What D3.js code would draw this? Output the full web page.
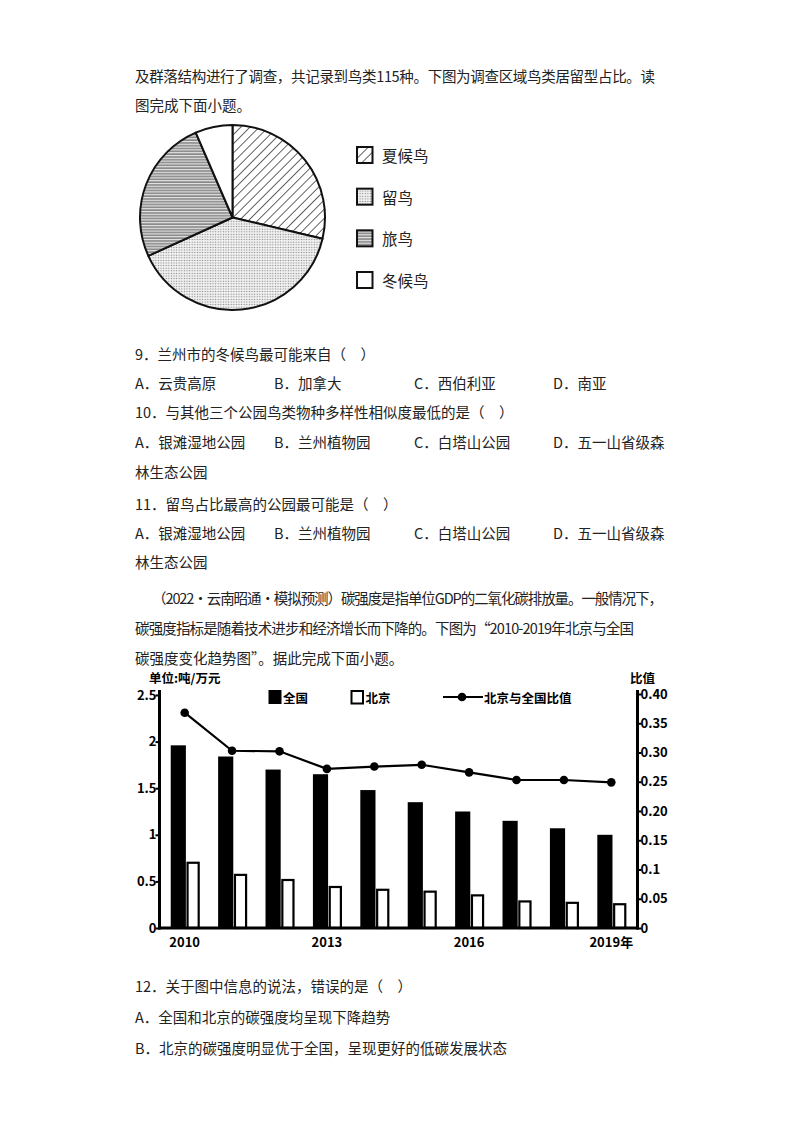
<!DOCTYPE html>
<html><head><meta charset="utf-8">
<script src="https://cdn.jsdelivr.net/npm/d3@7"></script>
<style>
html,body{margin:0;padding:0;background:#fff;}
svg{display:block;}
</style></head>
<body>
<script>
// ---------- data ----------
const pieLabels = ["夏候鸟", "留鸟", "旅鸟", "冬候鸟"];
const pieShares = [28.7, 39.5, 25.3, 6.5];

const years = ["2010","2011","2012","2013","2014","2015","2016","2017","2018","2019"];
const national = [1.96, 1.84, 1.70, 1.65, 1.48, 1.35, 1.25, 1.15, 1.07, 1.00];
const beijing = [0.70, 0.57, 0.515, 0.44, 0.41, 0.39, 0.35, 0.285, 0.27, 0.255];
const ratio = [0.368, 0.303, 0.302, 0.272, 0.276, 0.279, 0.266, 0.253, 0.253, 0.249];

const leftTicks = [0, 0.5, 1, 1.5, 2, 2.5];
const leftTickLabels = ["0", "0.5", "1", "1.5", "2", "2.5"];
const rightTicks = [0, 0.05, 0.10, 0.15, 0.20, 0.25, 0.30, 0.35, 0.40];
const rightTickLabels = ["0", "0.05", "0.1", "0.15", "0.20", "0.25", "0.30", "0.35", "0.40"];
const xTickYears = ["2010", "2013", "2016", "2019"];
const xTickLabels = ["2010", "2013", "2016", "2019年"];
const legendLabels = ["全国", "北京", "北京与全国比值"];

// ---------- page text ----------
const bodyLines = [
  {x:135, y:75, t:"及群落结构进行了调查，共记录到鸟类115种。下图为调查区域鸟类居留型占比。读", len:520},
  {x:135, y:104, t:"图完成下面小题。"},
  {x:135, y:353, t:"9．兰州市的冬候鸟最可能来自（　）"},
  {x:135, y:382, t:"A．云贵高原"},{x:274, y:382, t:"B．加拿大"},{x:414, y:382, t:"C．西伯利亚"},{x:553, y:382, t:"D．南亚"},
  {x:135, y:411, t:"10．与其他三个公园鸟类物种多样性相似度最低的是（　）"},
  {x:135, y:441, t:"A．银滩湿地公园"},{x:274, y:441, t:"B．兰州植物园"},{x:414, y:441, t:"C．白塔山公园"},{x:553, y:441, t:"D．五一山省级森"},
  {x:135, y:471, t:"林生态公园"},
  {x:135, y:503, t:"11．留鸟占比最高的公园最可能是（　）"},
  {x:135, y:532, t:"A．银滩湿地公园"},{x:274, y:532, t:"B．兰州植物园"},{x:414, y:532, t:"C．白塔山公园"},{x:553, y:532, t:"D．五一山省级森"},
  {x:135, y:561, t:"林生态公园"},
  {x:152, y:597, t:"（2022·云南昭通·模拟预测）碳强度是指单位GDP的二氧化碳排放量。一般情况下，", len:511},
  {x:135, y:627, t:"碳强度指标是随着技术进步和经济增长而下降的。下图为“2010-2019年北京与全国", len:499},
  {x:135, y:657, t:"碳强度变化趋势图”。据此完成下面小题。"},
  {x:135, y:985, t:"12．关于图中信息的说法，错误的是（　）"},
  {x:135, y:1016, t:"A．全国和北京的碳强度均呈现下降趋势"},
  {x:135, y:1047, t:"B．北京的碳强度明显优于全国，呈现更好的低碳发展状态"}
];

const svg = d3.select("body").append("svg").attr("width", 800).attr("height", 1132);
svg.append("rect").attr("width", 800).attr("height", 1132).attr("fill", "#fff");

const CJK = "'Noto Sans CJK SC','Noto Sans',sans-serif";

svg.append("g").selectAll("text").data(bodyLines).join("text")
  .attr("x", d => d.x).attr("y", d => d.y)
  .attr("dominant-baseline", "central")
  .attr("font-family", CJK).attr("font-size", 14.5).attr("fill", "#222")
  .each(function(d){ if (d.len) d3.select(this).attr("textLength", d.len).attr("lengthAdjust", "spacing"); })
  .text(d => d.t);

// ---------- patterns ----------
const defs = svg.append("defs");
const ph = defs.append("pattern").attr("id", "hatch").attr("patternUnits", "userSpaceOnUse")
  .attr("width", 6.5).attr("height", 6.5).attr("patternTransform", "rotate(45)");
ph.append("rect").attr("width", 6.5).attr("height", 6.5).attr("fill", "#fff");
ph.append("line").attr("x1", 0).attr("y1", 0).attr("x2", 0).attr("y2", 6.5).attr("stroke", "#111").attr("stroke-width", 1.3);

const pd = defs.append("pattern").attr("id", "dots").attr("patternUnits", "userSpaceOnUse")
  .attr("width", 2.6).attr("height", 2.6);
pd.append("rect").attr("width", 2.6).attr("height", 2.6).attr("fill", "#f2f2f2");
pd.append("circle").attr("cx", 1.3).attr("cy", 1.3).attr("r", 0.7).attr("fill", "#888");

const pl = defs.append("pattern").attr("id", "hlines").attr("patternUnits", "userSpaceOnUse")
  .attr("width", 4).attr("height", 2.8);
pl.append("rect").attr("width", 4).attr("height", 2.8).attr("fill", "#e6e6e6");
pl.append("rect").attr("y", 0.4).attr("width", 4).attr("height", 1.2).attr("fill", "#666");

const pieFills = ["url(#hatch)", "url(#dots)", "url(#hlines)", "#fff"];

// ---------- pie ----------
const pieG = svg.append("g").attr("transform", "translate(232.5,217.5)");
const arcs = d3.pie().sort(null).value(d => d)(pieShares);
const arc = d3.arc().innerRadius(0).outerRadius(92.5);
pieG.selectAll("path").data(arcs).join("path")
  .attr("d", arc).attr("fill", (d, i) => pieFills[i])
  .attr("stroke", "#111").attr("stroke-width", 2).attr("stroke-linejoin", "round");

const legY = d3.scalePoint().domain(pieLabels).range([155, 280]);
const lg = svg.append("g");
lg.selectAll("rect").data(pieLabels).join("rect")
  .attr("x", 357).attr("y", d => legY(d) - 8).attr("width", 15.5).attr("height", 16)
  .attr("fill", (d, i) => pieFills[i]).attr("stroke", "#111").attr("stroke-width", 2);
lg.selectAll("text").data(pieLabels).join("text")
  .attr("x", 382).attr("y", d => legY(d)).attr("dominant-baseline", "central")
  .attr("font-family", CJK).attr("font-size", 15.5).attr("fill", "#222").text(d => d);

// ---------- bar/line chart ----------
const x = d3.scaleBand().domain(years).range([161, 635]);
const bw = x.bandwidth();
const yL = d3.scaleLinear().domain([0, 2.5]).range([928, 695]);
const yR = d3.scaleLinear().domain([0, 0.4]).range([928, 694]);
const ch = svg.append("g").attr("font-family", CJK).attr("font-weight", 700);

ch.selectAll("rect.nat").data(years).join("rect").attr("class", "nat")
  .attr("x", d => x(d) + bw * 0.205).attr("width", bw * 0.32)
  .attr("y", (d, i) => yL(national[i])).attr("height", (d, i) => yL(0) - yL(national[i]))
  .attr("fill", "#000");
ch.selectAll("rect.bj").data(years).join("rect").attr("class", "bj")
  .attr("x", d => x(d) + bw * 0.56).attr("width", bw * 0.235)
  .attr("y", (d, i) => yL(beijing[i])).attr("height", (d, i) => yL(0) - yL(beijing[i]))
  .attr("fill", "#fff").attr("stroke", "#000").attr("stroke-width", 2.2);

const cx = d => x(d) + bw / 2;
ch.append("path").datum(years)
  .attr("d", d3.line().x(d => cx(d)).y((d, i) => yR(ratio[i])))
  .attr("fill", "none").attr("stroke", "#000").attr("stroke-width", 2.2);
ch.selectAll("circle.pt").data(years).join("circle").attr("class", "pt")
  .attr("cx", d => cx(d)).attr("cy", (d, i) => yR(ratio[i])).attr("r", 4.3).attr("fill", "#000");

// left axis
const axL = ch.append("g").attr("transform", "translate(159.5,0)")
  .call(d3.axisLeft(yL).tickValues(leftTicks).tickFormat((d, i) => leftTickLabels[i]).tickSize(4).tickSizeOuter(0));
axL.select(".domain").remove();
axL.selectAll(".tick line").attr("stroke", "#000").attr("stroke-width", 2);
axL.selectAll(".tick text").attr("font-family", CJK).attr("font-weight", 700).attr("font-size", 13).attr("fill", "#000").attr("x", -3);
ch.append("line").attr("x1", 159.5).attr("x2", 159.5).attr("y1", yL(2.5) - 5).attr("y2", yL(0) + 1.5)
  .attr("stroke", "#000").attr("stroke-width", 3);

// right axis
const axR = ch.append("g").attr("transform", "translate(637.5,0)")
  .call(d3.axisRight(yR).tickValues(rightTicks).tickFormat((d, i) => rightTickLabels[i]).tickSize(4).tickSizeOuter(0));
axR.select(".domain").remove();
axR.selectAll(".tick line").attr("stroke", "#000").attr("stroke-width", 2);
axR.selectAll(".tick text").attr("font-family", CJK).attr("font-weight", 700).attr("font-size", 13).attr("fill", "#000").attr("x", 3);
ch.append("line").attr("x1", 637.5).attr("x2", 637.5).attr("y1", yR(0.4) - 4).attr("y2", yR(0) + 1.5)
  .attr("stroke", "#000").attr("stroke-width", 3);

// bottom axis
ch.append("line").attr("x1", 158).attr("x2", 639).attr("y1", yL(0)).attr("y2", yL(0))
  .attr("stroke", "#000").attr("stroke-width", 3);
ch.selectAll("text.xt").data(xTickYears).join("text").attr("class", "xt")
  .attr("x", d => cx(d))
  .attr("y", yL(0) + 13).attr("dominant-baseline", "central").attr("text-anchor", "middle")
  .attr("font-size", 13).attr("fill", "#000").text((d, i) => xTickLabels[i]);

// axis titles
ch.append("text").attr("x", 149).attr("y", 677).attr("dominant-baseline", "central")
  .attr("font-size", 12.5).attr("fill", "#000").text("单位:吨/万元");
ch.append("text").attr("x", 630).attr("y", 677).attr("dominant-baseline", "central")
  .attr("font-size", 12.5).attr("fill", "#000").text("比值");

// chart legend
const lgY = 697;
ch.append("rect").attr("x", 268.5).attr("y", lgY - 7).attr("width", 13).attr("height", 14).attr("fill", "#000");
ch.append("text").attr("x", 283).attr("y", lgY).attr("dominant-baseline", "central").attr("font-size", 12.5).text(legendLabels[0]);
ch.append("rect").attr("x", 351.5).attr("y", lgY - 6).attr("width", 11.5).attr("height", 12.5)
  .attr("fill", "#fff").attr("stroke", "#000").attr("stroke-width", 2);
ch.append("text").attr("x", 365.5).attr("y", lgY).attr("dominant-baseline", "central").attr("font-size", 12.5).text(legendLabels[1]);
ch.append("line").attr("x1", 443).attr("x2", 483).attr("y1", lgY).attr("y2", lgY).attr("stroke", "#000").attr("stroke-width", 2.2);
ch.append("circle").attr("cx", 462).attr("cy", lgY).attr("r", 4.3).attr("fill", "#000");
ch.append("text").attr("x", 484).attr("y", lgY).attr("dominant-baseline", "central").attr("font-size", 12.5).text(legendLabels[2]);
</script>
</body></html>
